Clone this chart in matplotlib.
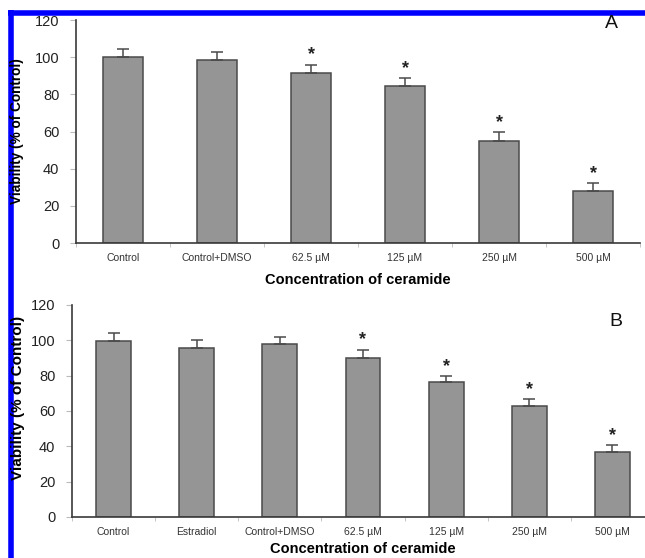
import numpy as np
import matplotlib.pyplot as plt
from matplotlib.lines import Line2D

# ========================
# 1. data
# ========================
labels_a = ['Control', 'Control+DMSO', '62.5 µM', '125 µM', '250 µM', '500 µM']
viability_a = [100.3, 98.5, 91.7, 84.7, 55, 28]
err_a = [3.9, 4.1, 4.3, 3.9, 4.5, 4.2]
star_a = [False, False, True, True, True, True]

labels_b = ['Control', 'Estradiol', 'Control+DMSO', '62.5 µM', '125 µM', '250 µM', '500 µM']
viability_b = [99.5, 95.8, 98, 90, 76.2, 63, 36.8]
err_b = [4.4, 4.5, 4, 4.6, 3.6, 3.8, 3.8]
star_b = [False, False, False, True, True, True, True]

# ========================
# 2. figure settings
# ========================
W, H = 645, 558
plt.rcParams['font.family'] = ['Liberation Sans', 'DejaVu Sans']
fig = plt.figure(figsize=(W / 100, H / 100), dpi=100)

BAR_COLOR = '#959595'
EDGE_COLOR = '#4a4a4a'
AXIS_COLOR = '#3a3a3a'


def px_box(left, top, right, bottom):
    # pixel box (origin top-left) -> figure fraction [l, b, w, h]
    return [left / W, 1 - bottom / H, (right - left) / W, (bottom - top) / H]


def draw_panel(ax, labels, values, errs, stars, letter_xy, letter):
    n = len(labels)
    x = np.arange(n) + 0.5
    ax.bar(x, values, width=0.42, color=BAR_COLOR, edgecolor=EDGE_COLOR,
           linewidth=1.1, zorder=2)
    ax.errorbar(x, values, yerr=[np.zeros(n), errs], fmt='none',
                ecolor=EDGE_COLOR, elinewidth=1.1, capsize=4, capthick=1.1,
                zorder=3)
    for xi, v, e, s in zip(x, values, errs, stars):
        if s:
            ax.annotate('*', (xi, v + e), xytext=(0, 1), textcoords='offset points',
                        ha='center', va='bottom', fontsize=13, fontweight='bold',
                        color='#222222')

    ax.set_xlim(0, n)
    ax.set_ylim(0, 120)
    ax.set_yticks(np.arange(0, 121, 20))
    ax.set_xticks(x)
    ax.set_xticklabels(labels, fontsize=7.5, color='#333333')
    ax.set_xticks(np.arange(n + 1), minor=True)
    ax.tick_params(axis='x', which='major', length=0, pad=7)
    ax.tick_params(axis='x', which='minor', length=3, color='#bbbbbb')
    ax.tick_params(axis='y', length=4, color='#bbbbbb', labelsize=10.5,
                   labelcolor='#222222', pad=8)

    for side in ['top', 'right']:
        ax.spines[side].set_visible(False)
    for side in ['left', 'bottom']:
        ax.spines[side].set_color(AXIS_COLOR)
        ax.spines[side].set_linewidth(1.2)

    fig.text(letter_xy[0] / W, 1 - letter_xy[1] / H, letter, fontsize=14,
             ha='center', va='center', color='#111111')


# ========================
# 3. panel A
# ========================
ax_a = fig.add_axes(px_box(76, 20, 640, 243))
draw_panel(ax_a, labels_a, viability_a, err_a, star_a, (611, 23), 'A')
fig.text(17.5 / W, 1 - 131 / H, 'Viability (% of Control)', rotation=90,
         ha='center', va='center', fontsize=9.8, fontweight='bold')
fig.text(358 / W, 1 - 280 / H, 'Concentration of ceramide', ha='center',
         va='center', fontsize=10.5, fontweight='bold')

# ========================
# 4. panel B
# ========================
ax_b = fig.add_axes(px_box(72, 305, 654, 517))
draw_panel(ax_b, labels_b, viability_b, err_b, star_b, (616, 322), 'B')
fig.text(18 / W, 1 - 398 / H, 'Viability (% of Control)', rotation=90,
         ha='center', va='center', fontsize=11, fontweight='bold')
fig.text(363 / W, 1 - 549 / H, 'Concentration of ceramide', ha='center',
         va='center', fontsize=10.5, fontweight='bold')

# ========================
# 5. blue frame on top and left
# ========================
fig.add_artist(Line2D([8 / W, 1], [1 - 12.5 / H, 1 - 12.5 / H],
                      transform=fig.transFigure, color='#0000ff', linewidth=4,
                      solid_capstyle='butt'))
fig.add_artist(Line2D([10.5 / W, 10.5 / W], [0, 1 - 10 / H],
                      transform=fig.transFigure, color='#0000ff', linewidth=4,
                      solid_capstyle='butt'))

fig.savefig('out.png', dpi=100)
